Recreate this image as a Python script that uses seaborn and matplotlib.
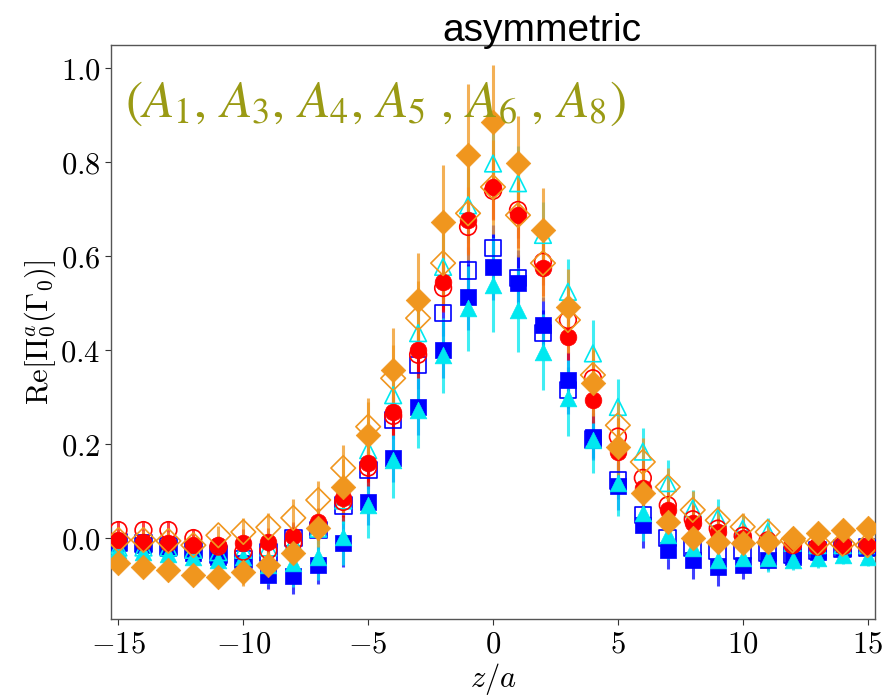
import numpy as np
import pandas as pd
import seaborn as sns
import matplotlib.pyplot as plt
from matplotlib.ticker import FuncFormatter

sns.set_theme(style="ticks")
plt.rcParams['mathtext.fontset'] = 'cm'

z = list(range(-15, 16))

# filled / open markers for each channel
red_f = [-0.004, -0.008, -0.010, -0.015, -0.015, -0.011, -0.008, 0.004, 0.035, 0.085, 0.159, 0.269, 0.400, 0.545, 0.677, 0.747,
         0.687, 0.574, 0.428, 0.294, 0.184, 0.106, 0.060, 0.032, 0.013, 0.000, -0.006, -0.012, -0.016, -0.016, -0.016]
red_o = [0.017, 0.017, 0.017, 0.000, -0.018, -0.029, -0.026, -0.010, 0.025, 0.077, 0.150, 0.260, 0.390, 0.532, 0.662, 0.739,
         0.698, 0.588, 0.464, 0.340, 0.216, 0.128, 0.070, 0.040, 0.020, 0.005, -0.005, -0.015, -0.018, -0.015, -0.018]
blue_f = [-0.008, -0.015, -0.021, -0.032, -0.040, -0.054, -0.079, -0.080, -0.057, -0.011, 0.077, 0.170, 0.279, 0.400, 0.513, 0.577,
          0.542, 0.453, 0.336, 0.216, 0.110, 0.028, -0.026, -0.047, -0.061, -0.057, -0.047, -0.040, -0.030, -0.022, -0.018]
blue_o = [-0.010, -0.012, -0.018, -0.025, -0.035, -0.045, -0.030, 0.000, 0.017, 0.070, 0.145, 0.251, 0.368, 0.479, 0.569, 0.617,
          0.553, 0.436, 0.315, 0.210, 0.123, 0.049, 0.000, -0.020, -0.026, -0.026, -0.032, -0.036, -0.026, -0.022, -0.020]
cyan_f = [-0.026, -0.029, -0.033, -0.040, -0.047, -0.040, -0.057, -0.053, -0.040, 0.003, 0.070, 0.166, 0.272, 0.389, 0.489, 0.538,
          0.485, 0.396, 0.298, 0.209, 0.118, 0.053, 0.006, -0.021, -0.047, -0.043, -0.043, -0.047, -0.043, -0.036, -0.040]
cyan_o = [-0.020, -0.020, -0.020, -0.025, -0.030, -0.025, -0.020, -0.010, 0.020, 0.080, 0.187, 0.304, 0.436, 0.577, 0.708, 0.797,
          0.755, 0.645, 0.524, 0.393, 0.279, 0.184, 0.117, 0.063, 0.043, 0.020, 0.013, -0.010, -0.015, -0.015, -0.015]
orng_f = [-0.054, -0.061, -0.068, -0.079, -0.082, -0.072, -0.057, -0.032, 0.021, 0.109, 0.219, 0.357, 0.506, 0.673, 0.816, 0.886,
          0.799, 0.655, 0.492, 0.330, 0.194, 0.096, 0.035, 0.000, -0.008, -0.011, -0.008, 0.000, 0.011, 0.017, 0.021]
orng_o = [-0.004, -0.004, -0.006, -0.015, 0.006, 0.013, 0.023, 0.043, 0.081, 0.149, 0.237, 0.340, 0.468, 0.585, 0.691, 0.747,
          0.687, 0.585, 0.464, 0.347, 0.240, 0.162, 0.109, 0.060, 0.038, 0.024, 0.013, -0.005, -0.010, -0.012, -0.015]

# error bars
red_f_err = [0.02, 0.02, 0.02, 0.02, 0.02, 0.03, 0.03, 0.03, 0.03, 0.04, 0.04, 0.05, 0.05, 0.06, 0.07, 0.07,
             0.07, 0.06, 0.05, 0.05, 0.04, 0.04, 0.03, 0.03, 0.03, 0.02, 0.02, 0.02, 0.02, 0.02, 0.02]
red_o_err = [0.02, 0.02, 0.02, 0.02, 0.02, 0.02, 0.03, 0.03, 0.03, 0.04, 0.04, 0.04, 0.05, 0.05, 0.06, 0.06,
             0.06, 0.05, 0.05, 0.04, 0.04, 0.04, 0.03, 0.03, 0.02, 0.02, 0.02, 0.02, 0.02, 0.02, 0.02]
blue_f_err = [0.02, 0.02, 0.02, 0.03, 0.03, 0.03, 0.03, 0.04, 0.04, 0.05, 0.05, 0.05, 0.06, 0.06, 0.07, 0.07,
              0.07, 0.06, 0.06, 0.05, 0.05, 0.05, 0.04, 0.04, 0.04, 0.03, 0.02, 0.02, 0.02, 0.02, 0.02]
blue_o_err = [0.02, 0.02, 0.02, 0.02, 0.02, 0.03, 0.03, 0.03, 0.03, 0.04, 0.04, 0.04, 0.05, 0.05, 0.05, 0.05,
              0.05, 0.05, 0.05, 0.04, 0.04, 0.03, 0.03, 0.03, 0.02, 0.02, 0.02, 0.02, 0.02, 0.02, 0.02]
cyan_f_err = [0.02, 0.02, 0.02, 0.03, 0.03, 0.03, 0.04, 0.05, 0.05, 0.06, 0.07, 0.08, 0.08, 0.08, 0.09, 0.10,
              0.09, 0.08, 0.08, 0.07, 0.07, 0.06, 0.05, 0.04, 0.03, 0.03, 0.03, 0.02, 0.02, 0.02, 0.02]
cyan_o_err = [0.02, 0.02, 0.02, 0.02, 0.02, 0.02, 0.03, 0.03, 0.04, 0.05, 0.06, 0.06, 0.07, 0.07, 0.08, 0.08,
              0.08, 0.07, 0.07, 0.07, 0.06, 0.05, 0.05, 0.04, 0.04, 0.03, 0.03, 0.02, 0.02, 0.02, 0.02]
orng_f_err = [0.02, 0.02, 0.02, 0.02, 0.02, 0.03, 0.03, 0.03, 0.04, 0.06, 0.07, 0.09, 0.10, 0.12, 0.15, 0.12,
              0.10, 0.09, 0.08, 0.07, 0.06, 0.05, 0.04, 0.03, 0.03, 0.02, 0.02, 0.02, 0.02, 0.02, 0.02]
orng_o_err = [0.02, 0.02, 0.02, 0.02, 0.02, 0.03, 0.03, 0.04, 0.04, 0.05, 0.06, 0.07, 0.08, 0.09, 0.10, 0.10,
              0.09, 0.08, 0.07, 0.06, 0.05, 0.05, 0.04, 0.04, 0.03, 0.03, 0.02, 0.02, 0.02, 0.02, 0.02]

RED, BLUE, CYAN, ORNG = '#ff0000', '#0000ff', '#00e8f0', '#f0961e'

# draw order: first listed is at the bottom
series = [
    (blue_f, blue_f_err, BLUE, 's', True, 12),
    (blue_o, blue_o_err, BLUE, 's', False, 12),
    (cyan_f, cyan_f_err, CYAN, '^', True, 12),
    (cyan_o, cyan_o_err, CYAN, '^', False, 12),
    (red_f, red_f_err, RED, 'o', True, 12),
    (red_o, red_o_err, RED, 'o', False, 12),
    (orng_o, orng_o_err, ORNG, 'D', False, 12.5),
    (orng_f, orng_f_err, ORNG, 'D', True, 12.5),
]

fig = plt.figure(figsize=(8.83, 6.97), dpi=100)
ax = fig.add_axes([0.1257, 0.112, 0.8653, 0.8234])

for vals, err, col, mk, filled, ms in series:
    df = pd.DataFrame({'z': z, 'val': vals})
    ax.errorbar(df['z'], df['val'], yerr=err, fmt='none', ecolor=col,
                elinewidth=2.2, alpha=0.75, capsize=0)
    if filled:
        sns.scatterplot(data=df, x='z', y='val', marker=mk, s=ms ** 2,
                        color=col, edgecolor=col, linewidth=0.5, ax=ax, zorder=3)
    else:
        sns.scatterplot(data=df, x='z', y='val', marker=mk, s=ms ** 2,
                        facecolor='none', edgecolor=col, linewidth=1.2, ax=ax, zorder=3)

ax.set_xlim(-15.3, 15.3)
ax.set_ylim(-0.172, 1.049)
ax.set_xticks([-15, -10, -5, 0, 5, 10, 15])
ax.set_yticks([0.0, 0.2, 0.4, 0.6, 0.8, 1.0])
ax.xaxis.set_major_formatter(FuncFormatter(lambda v, p: f'${v:.0f}$'))
ax.yaxis.set_major_formatter(FuncFormatter(lambda v, p: f'${v:.1f}$'))
ax.tick_params(labelsize=22, length=4, width=0.8, colors='#333333', labelcolor='black')
for s in ax.spines.values():
    s.set_color('#555555')
    s.set_linewidth(1.0)

ax.set_xlabel(r'$z/a$', fontsize=22, labelpad=2, color='black')
ax.set_ylabel(r'$\mathrm{Re}[\Pi_0^a(\Gamma_0)]$', fontsize=22, labelpad=2, color='black')

ax.text(0.018, 0.875, r'$(A_1,\,A_3,\,A_4,\,A_5\ ,\,A_6\ ,\,A_8)$', transform=ax.transAxes,
        fontsize=37, color='#9a9a14', math_fontfamily='stix', zorder=5)
fig.text(0.614, 0.941, 'asymmetric', fontsize=28, family='Liberation Sans',
         ha='center', va='baseline', color='black')

fig.savefig('out.png', dpi=100)
